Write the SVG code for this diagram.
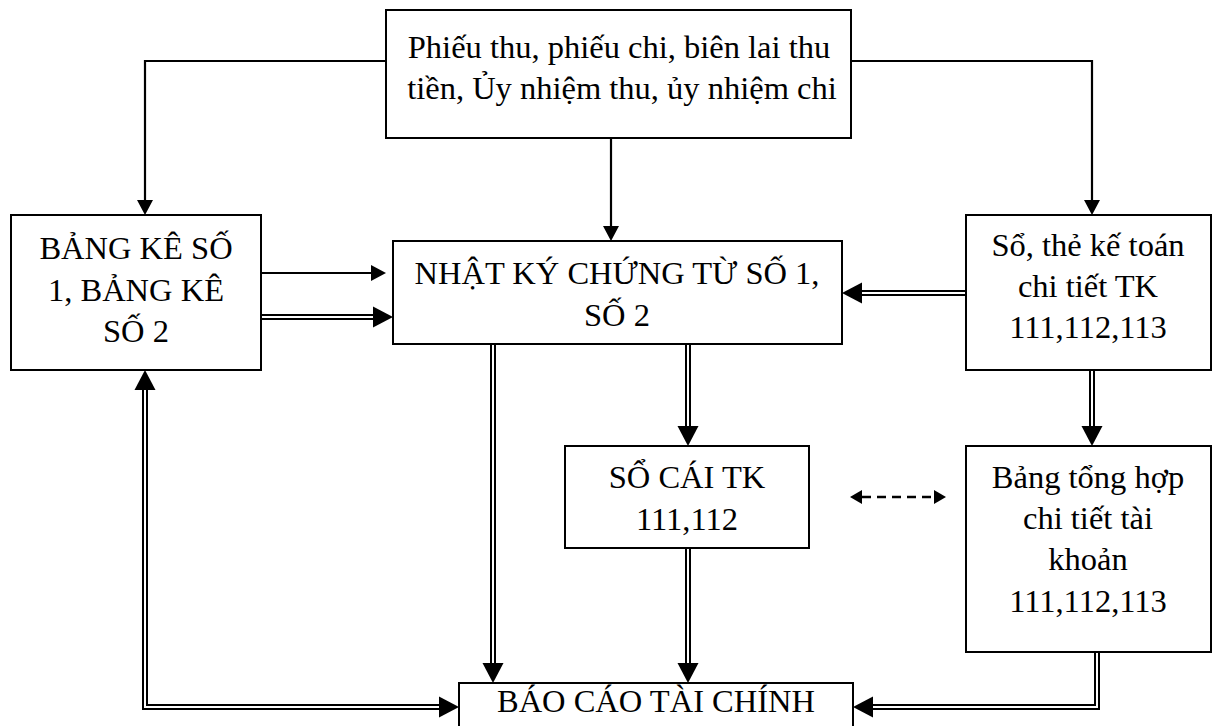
<svg xmlns="http://www.w3.org/2000/svg" width="1224" height="726" viewBox="0 0 1224 726">
<style>
.box{fill:#fff;stroke:#000;stroke-width:2}
.t{font-family:"Liberation Serif","Times New Roman",serif;font-size:32.5px;fill:#000;text-anchor:middle}
.s{fill:none;stroke:#000;stroke-width:2.2}
.db{fill:none;stroke:#000;stroke-width:6;stroke-linejoin:miter}
.dw{fill:none;stroke:#fff;stroke-width:2;stroke-linejoin:miter}
.dash{fill:none;stroke:#000;stroke-width:2.6;stroke-dasharray:9 6}
</style>
<defs>
<marker id="aS" markerUnits="userSpaceOnUse" markerWidth="20" markerHeight="20" viewBox="0 -10 20 20" refX="0" refY="0" orient="auto-start-reverse"><path d="M0,-8 L15,0 L0,8 z" fill="#000"/></marker>
<marker id="aD" markerUnits="userSpaceOnUse" markerWidth="24" markerHeight="24" viewBox="0 -12 24 24" refX="0" refY="0" orient="auto-start-reverse"><path d="M0,-10.5 L20,0 L0,10.5 z" fill="#000"/></marker>
<marker id="aK" markerUnits="userSpaceOnUse" markerWidth="16" markerHeight="16" viewBox="0 -8 16 16" refX="0" refY="0" orient="auto-start-reverse"><path d="M0,-7 L12,0 L0,7 z" fill="#000"/></marker>
</defs>
<rect width="1224" height="726" fill="#fff"/>
<g id="connectors">
<path class="s" d="M386,61 H145 V200" marker-end="url(#aS)"/>
<path class="s" d="M851,61 H1092 V200" marker-end="url(#aS)"/>
<path class="s" d="M611,138 V226" marker-end="url(#aS)"/>
<path class="s" d="M261,273 H371" marker-end="url(#aS)"/>
<path class="db" d="M261,317 H373" marker-end="url(#aD)"/><path class="dw" d="M261,317 H373"/>
<path class="db" d="M966,293 H862" marker-end="url(#aD)"/><path class="dw" d="M966,293 H862"/>
<path class="db" d="M493,344 V663" marker-end="url(#aD)"/><path class="dw" d="M493,344 V663"/>
<path class="db" d="M688,344 V426" marker-end="url(#aD)"/><path class="dw" d="M688,344 V426"/>
<path class="db" d="M688,548 V663" marker-end="url(#aD)"/><path class="dw" d="M688,548 V663"/>
<path class="db" d="M1092,370 V426" marker-end="url(#aD)"/><path class="dw" d="M1092,370 V426"/>
<path class="db" d="M1097,652 V707 H873" marker-end="url(#aD)"/><path class="dw" d="M1097,652 V707 H873"/>
<path class="db" d="M145,390 V707 H439" marker-start="url(#aD)" marker-end="url(#aD)"/><path class="dw" d="M145,390 V707 H439"/>
<path class="dash" d="M862,497 H934" marker-start="url(#aK)" marker-end="url(#aK)"/>
</g>
<g id="n-chungtu">
<rect class="box" x="386" y="10" width="465" height="128"/>
<text class="t" x="619" y="58">Phiếu thu, phiếu chi, biên lai thu</text>
<text class="t" x="622" y="99">tiền, Ủy nhiệm thu, ủy nhiệm chi</text>
</g>
<g id="n-bangke">
<rect class="box" x="11" y="215" width="250" height="155"/>
<text class="t" x="136" y="259">BẢNG KÊ SỐ</text>
<text class="t" x="136" y="301">1, BẢNG KÊ</text>
<text class="t" x="136" y="342">SỐ 2</text>
</g>
<g id="n-nhatky">
<rect class="box" x="393" y="241" width="449" height="103"/>
<text class="t" x="617" y="284">NHẬT KÝ CHỨNG TỪ SỐ 1,</text>
<text class="t" x="617" y="326">SỐ 2</text>
</g>
<g id="n-sothe">
<rect class="box" x="966" y="215" width="245" height="155"/>
<text class="t" x="1088" y="256">Sổ, thẻ kế toán</text>
<text class="t" x="1088" y="297">chi tiết TK</text>
<text class="t" x="1088" y="338">111,112,113</text>
</g>
<g id="n-socai">
<rect class="box" x="565" y="446" width="244" height="102"/>
<text class="t" x="687" y="488">SỔ CÁI TK</text>
<text class="t" x="687" y="530">111,112</text>
</g>
<g id="n-tonghop">
<rect class="box" x="966" y="446" width="245" height="206"/>
<text class="t" x="1088" y="488">Bảng tổng hợp</text>
<text class="t" x="1088" y="529">chi tiết tài</text>
<text class="t" x="1088" y="570">khoản</text>
<text class="t" x="1088" y="612">111,112,113</text>
</g>
<g id="n-baocao">
<rect class="box" x="459" y="683" width="394" height="60"/>
<text class="t" x="656" y="712">BÁO CÁO TÀI CHÍNH</text>
</g>
</svg>
